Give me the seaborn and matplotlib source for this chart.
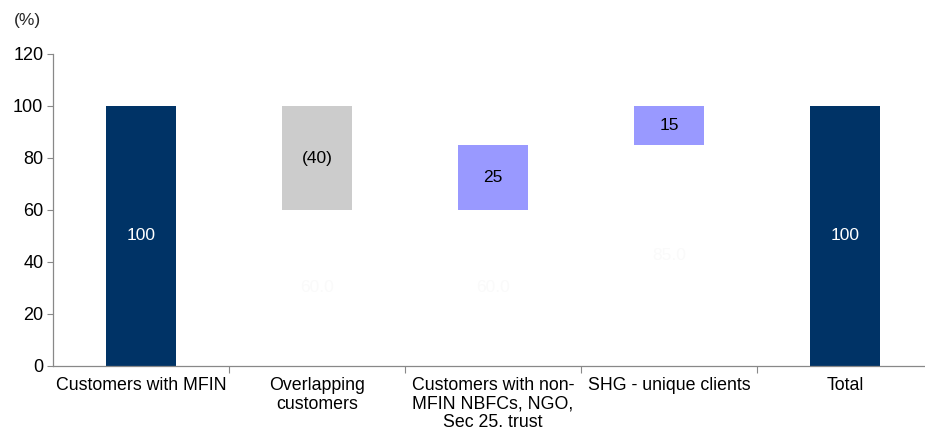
import matplotlib
matplotlib.use("Agg")
import matplotlib.pyplot as plt
import seaborn as sns
import numpy as np

categories = ["Customers with MFIN", "Overlapping\ncustomers",
              "Customers with non-\nMFIN NBFCs, NGO,\nSec 25. trust",
              "SHG - unique clients", "Total"]
values = [100, -40, 25, 15, 100]
kinds = ["total", "delta", "delta", "delta", "total"]
value_labels = ["100", "(40)", "25", "15", "100"]
colors = ["#003366", "#CCCCCC", "#9999FF", "#9999FF", "#003366"]
yticks = [0, 20, 40, 60, 80, 100, 120]

# waterfall bases
bases, tops = [], []
running = 0
for v, k in zip(values, kinds):
    if k == "total":
        bases.append(0); tops.append(v); running = v
    else:
        new = running + v
        lo, hi = min(running, new), max(running, new)
        bases.append(lo); tops.append(hi); running = new

sns.set_theme(style="white")
plt.rcParams['font.family'] = ['Liberation Sans', 'DejaVu Sans']

fig = plt.figure(figsize=(9.25, 4.34), dpi=100)
ax = fig.add_axes([53/925, 1-366/434, 872/925, (366-54)/434])

sns.barplot(x=categories, y=tops, hue=categories, palette=colors,
            legend=False, width=0.4, ax=ax, saturation=1, linewidth=0)
sns.barplot(x=categories, y=bases, color="white", width=0.4, ax=ax,
            saturation=1, linewidth=0)

# labels
for i, (b, t, lab, k) in enumerate(zip(bases, tops, value_labels, kinds)):
    col = "white" if k == "total" else "black"
    ax.text(i, (b + t) / 2, lab, ha="center", va="center", fontsize=12.5, color=col)
    if k == "delta":
        ax.text(i, b / 2, f"{b:.1f}", ha="center", va="center",
                fontsize=12.5, color="#fafafa")

ax.set_ylim(0, 120)
ax.set_yticks(yticks)
ax.set_xlim(-0.5, -0.5 + 872/176)
ax.set_xticks(range(len(categories)))
ax.set_xticklabels(categories, fontsize=12.8, color="black", linespacing=1.13)
ax.set_xticks(np.arange(0.5, len(categories) - 0.5, 1), minor=True)
ax.tick_params(axis="x", which="major", length=0, pad=8)
ax.tick_params(axis="x", which="minor", length=5, width=0.8, color="#888888", direction="out", bottom=True)
ax.tick_params(axis="y", length=4, width=0.8, color="#888888", direction="out", left=True,
               labelsize=13, labelcolor="black", pad=3)
for s in ["top", "right"]:
    ax.spines[s].set_visible(False)
for s in ["left", "bottom"]:
    ax.spines[s].set_color("#888888")
    ax.spines[s].set_linewidth(0.9)
ax.set_xlabel(""); ax.set_ylabel("")

fig.text(14/925, 1-20/434, "(%)", fontsize=12.5, ha="left", va="center")

fig.savefig("out.png", dpi=100)
